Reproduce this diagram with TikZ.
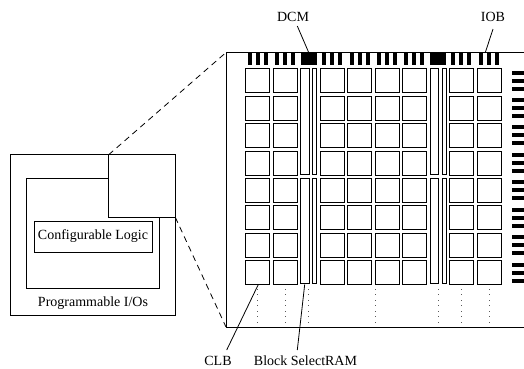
\documentclass[tikz,border=0pt]{standalone}
\usepackage{fontspec}
\setmainfont{Liberation Serif}
\tikzset{
  x=1pt,y=-1pt,
  wire/.style={draw=black,line width=0.8pt},
  box/.style={wire,fill=white,anchor=north west,inner sep=0pt,outer sep=0pt},
  clb/.style={box,minimum width=24pt,minimum height=24pt},
  bar/.style={fill=black,anchor=north west,inner sep=0pt,outer sep=0pt},
  lbl/.style={font=\fontsize{14}{14}\selectfont,inner sep=0pt},
  zoomline/.style={wire,dash pattern=on 6pt off 4.5pt},
  dotmark/.style={fill=black!65}
}
\begin{document}
\begin{tikzpicture}
\useasboundingbox (0,0) rectangle (524,368);
% left device
\node[box,minimum width=164.6pt,minimum height=160.6pt] (outer) at (10.7,154.7) {};
\node[box,minimum width=133pt,minimum height=109.7pt] (inner) at (26.3,178.3) {};
\node[box,minimum width=118pt,minimum height=31.4pt] (logic) at (34,221.3) {};
\node[lbl] at (93,236.5) {Configurable Logic};
\node[lbl] (pio) at (93,303) {Programmable I/Os};
\node[box,minimum width=66.6pt,minimum height=62.6pt] (corner) at (108.7,154.7) {};
% detail frame
\node[box,minimum width=298.2pt,minimum height=274.5pt] (frame) at (226,52.5) {};
\draw[zoomline] (corner.north west) -- (frame.north west);
\draw[zoomline] (corner.south east) -- (frame.south west);
% CLB array
\foreach \cx [count=\c] in {245.7,273.3,320.3,347.7,375,402.3,449.3,477}{
  \foreach \ry [count=\r] in {68.5,96,123.4,151,178.3,205.7,233.2,260.5}{
    \node[clb] (c\c r\r) at (\cx,\ry) {};
  }
  % top IOB bars
  \foreach \d [count=\b] in {2,10,18}{
    \fill[black] (\cx+\d,52.5) rectangle (\cx+\d+4,64.7);
  }
}
% right IOB bars
\foreach \ry in {68.5,96,123.4,151,178.3,205.7,233.2,260.5}{
  \foreach \d in {2,10,18}{
    \fill[black] (512.3,\ry+\d) rectangle (524,\ry+\d+4);
  }
}
% Block RAM and DCM
\foreach \rx/\n in {300.7/a,430.3/b}{
  \node[box,minimum width=8.3pt,minimum height=105.5pt] (ram\n1) at (\rx,68.5) {};
  \node[box,minimum width=8.3pt,minimum height=105.5pt] (ram\n2) at (\rx,178.3) {};
  \node[box,minimum width=4pt,minimum height=105.5pt] (rom\n1) at (\rx+11.6,68.5) {};
  \node[box,minimum width=4pt,minimum height=105.5pt] (rom\n2) at (\rx+11.6,178.3) {};
  \node[bar,minimum width=16pt,minimum height=12.2pt] (dcm\n) at (\rx,52.5) {};
}
% continuation dots
\foreach \dx in {257.3,285,308.7,375,438,461.7,489}{
  \foreach \dy in {289.3,294.8,300.3,305.8,311.3,316.8,322.3}{
    \fill[dotmark] (\dx-0.4,\dy-0.4) rectangle (\dx+0.4,\dy+0.4);
  }
}
% labels and leaders
\node[lbl] (ldcm) at (293,17) {DCM};
\node[lbl] (liob) at (493,17) {IOB};
\node[lbl] (lclb) at (218,361) {CLB};
\node[lbl] (lram) at (305.5,361) {Block SelectRAM};
\coordinate (dcmtop) at (308.7,52.5);
\coordinate (dcmleader) at (297.3,26);
\coordinate (iobtop) at (485.3,52.5);
\coordinate (iobleader) at (493,29);
\coordinate (clbleader) at (226.7,350);
\coordinate (clbtarget) at (258.3,284.5);
\coordinate (ramleader) at (297.3,350);
\coordinate (ramtarget) at (304.7,284.5);
\draw[wire] (dcmleader) -- (dcmtop);
\draw[wire] (iobleader) -- (iobtop);
\draw[wire] (clbleader) -- (clbtarget);
\draw[wire] (ramleader) -- (ramtarget);
\end{tikzpicture}
\end{document}
